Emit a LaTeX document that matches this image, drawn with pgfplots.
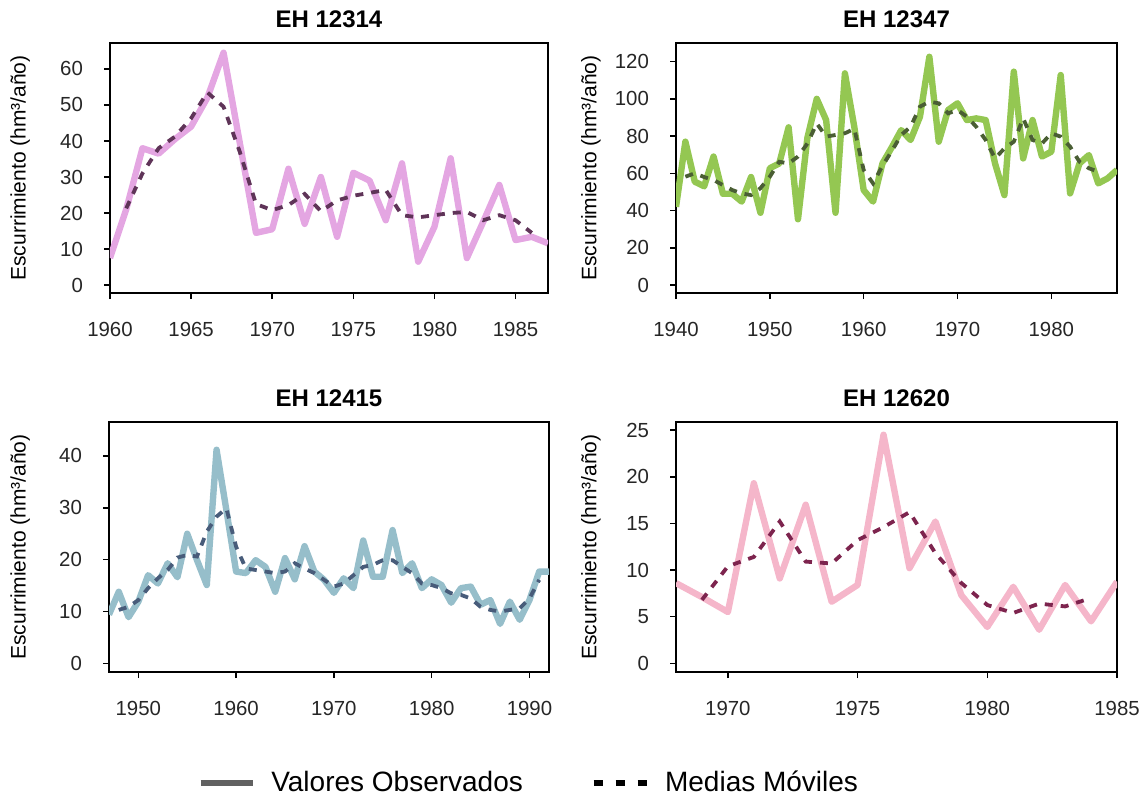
\documentclass[border=0pt]{standalone}
\usepackage{fontspec}
\setmainfont{Liberation Sans}
\usepackage{pgfplots}
\pgfplotsset{compat=1.18}

\definecolor{obsA}{RGB}{228,166,226}
\definecolor{maA}{RGB}{95,52,88}
\definecolor{obsB}{RGB}{148,199,82}
\definecolor{maB}{RGB}{74,94,52}
\definecolor{obsC}{RGB}{150,190,202}
\definecolor{maC}{RGB}{72,92,122}
\definecolor{obsD}{RGB}{245,182,202}
\definecolor{maD}{RGB}{125,36,78}

\pgfplotsset{
  panel/.style={
    scale only axis, height=125pt,
    axis line style={black, line width=0.9pt},
    tick align=outside, major tick length=3pt,
    xtick pos=left, ytick pos=left,
    tick style={black, line width=0.8pt},
    every tick label/.append style={font=\fontsize{10.2}{12}\selectfont, text=black!85},
    /pgf/number format/assume math mode=true,
    /pgf/number format/1000 sep={},
    xticklabel style={yshift=-8pt},
    yticklabel style={xshift=-7pt},
    title style={font=\bfseries\fontsize{12}{14}\selectfont, at={(axis description cs:0.5,1)}, anchor=base, yshift=2pt},
    ylabel={Escurrimiento (hm³/año)},
    ylabel style={font=\fontsize{10.5}{12}\selectfont, anchor=center},
  },
  obs/.style={line width=3.2pt, line join=round},
  ma/.style={line width=1.9pt, dash pattern=on 4pt off 4pt},
  legsolid/.style={legend image code/.code={\draw[##1] (0pt,0pt) -- (26pt,0pt);}},
  legdash/.style={legend image code/.code={\draw[##1] (0pt,0pt) -- (26.5pt,0pt);}},
}

\begin{document}
\begin{tikzpicture}
\path[use as bounding box] (0,0) rectangle (572pt,-402.5pt);

% EH 12314
\begin{axis}[panel, at={(55pt,-146.5pt)}, anchor=south west, width=219pt,
  title={EH 12314},
  xmin=1960, xmax=1987, ymin=-2.2, ymax=67.2,
  xtick={1960,1965,...,1985}, ytick={0,10,...,60},
  ylabel style={at={(axis description cs:-0.205,0.5)}}]
\addplot[obs, obsA] coordinates {
 (1960,7.5) (1961,21) (1962,38) (1963,36.5) (1964,40.5) (1965,44) (1966,52)
 (1967,64.5) (1968,39.5) (1969,14.5) (1970,15.5) (1971,32.3) (1972,17) (1973,30)
 (1974,13.4) (1975,31.2) (1976,29) (1977,18) (1978,33.8) (1979,6.5) (1980,16.2)
 (1981,35.2) (1982,7.5) (1983,17.5) (1984,27.8) (1985,12.5) (1986,13.4) (1987,11.6)};
\addplot[ma, maA] coordinates {
 (1961,21.3) (1962,31) (1963,38) (1964,41.2) (1965,46.3) (1966,53.5) (1967,49.5)
 (1968,37) (1969,22.5) (1970,20.8) (1971,22.2) (1972,25.3) (1973,20.5) (1974,23.5)
 (1975,24.8) (1976,25.6) (1977,26.4) (1978,19.4) (1979,18.8) (1980,19.4) (1981,20)
 (1982,20.3) (1983,18) (1984,19.4) (1985,18) (1986,14.5)};
\end{axis}

% EH 12347
\begin{axis}[panel, at={(338pt,-146.5pt)}, anchor=south west, width=220.5pt,
  title={EH 12347},
  xmin=1940, xmax=1987, ymin=-4.3, ymax=130,
  xtick={1940,1950,...,1980}, ytick={0,20,...,120},
  ylabel style={at={(axis description cs:-0.193,0.5)}}]
\addplot[obs, obsB] coordinates {
 (1940,42) (1941,77) (1942,55.5) (1943,53) (1944,69) (1945,49) (1946,49)
 (1947,44.8) (1948,58) (1949,38.8) (1950,62.7) (1951,65.3) (1952,84.7) (1953,35.3)
 (1954,79) (1955,100) (1956,88.6) (1957,38.8) (1958,113.7) (1959,85) (1960,51)
 (1961,44.8) (1962,65.3) (1963,74) (1964,83.2) (1965,77.9) (1966,90.4) (1967,122.6)
 (1968,77) (1969,94) (1970,97.6) (1971,88.6) (1972,89.5) (1973,88.6) (1974,65.3)
 (1975,48.3) (1976,114.6) (1977,68) (1978,88.6) (1979,69) (1980,71.6) (1981,112.8)
 (1982,49.2) (1983,65.3) (1984,69.8) (1985,54.6) (1986,57.3) (1987,61.8)};
\addplot[ma, maB] coordinates {
 (1941,58.2) (1942,60) (1943,58) (1944,56.4) (1945,53.7) (1946,51) (1947,49.2)
 (1948,48.3) (1949,52) (1950,58.2) (1951,66.2) (1952,65.3) (1953,69) (1954,76)
 (1955,86.8) (1956,79.7) (1957,80.6) (1958,81.5) (1959,84) (1960,61.8) (1961,54.6)
 (1962,64) (1963,72) (1964,80.6) (1965,85) (1966,95.8) (1967,98.5) (1968,97.6)
 (1969,92.2) (1970,94) (1971,90.4) (1972,85) (1973,77.9) (1974,68) (1975,73.4)
 (1976,77) (1977,89.5) (1978,77.9) (1979,76) (1980,81.5) (1981,79.7) (1982,74.3)
 (1983,66.2) (1984,62.7) (1985,60.9)};
\end{axis}

% EH 12415
\begin{axis}[panel, at={(54.5pt,-336pt)}, anchor=south west, width=220pt,
  title={EH 12415},
  xmin=1947, xmax=1992, ymin=-1.68, ymax=46.55,
  xtick={1950,1960,...,1990}, ytick={0,10,...,40},
  ylabel style={at={(axis description cs:-0.202,0.5)}},
  legend style={at={(axis description cs:0.957,-0.444)}, anchor=center, draw=none,
    legend columns=2, font=\fontsize{14}{16}\selectfont,
    /tikz/every odd column/.append style={column sep=6pt},
    /tikz/every even column/.append style={column sep=32pt}},
  legend cell align=left]
\addlegendimage{legsolid, line width=2.6pt, black!62}
\addlegendentry{Valores Observados}
\addlegendimage{legdash, line width=2.6pt, black, dash pattern=on 4.5pt off 6.5pt}
\addlegendentry{Medias Móviles}
\addplot[obs, obsC, forget plot] coordinates {
 (1947,9.4) (1948,13.8) (1949,8.9) (1950,11.9) (1951,17) (1952,15.4) (1953,19.3)
 (1954,16.6) (1955,25) (1956,19.9) (1957,15.1) (1958,41.2) (1959,29.6) (1960,17.7)
 (1961,17.4) (1962,19.9) (1963,18.6) (1964,13.8) (1965,20.3) (1966,16.2) (1967,22.6)
 (1968,17.7) (1969,16.1) (1970,13.6) (1971,16.4) (1972,14.5) (1973,23.7) (1974,16.7)
 (1975,16.7) (1976,25.7) (1977,17.4) (1978,19.3) (1979,14.5) (1980,16.2) (1981,15.1)
 (1982,11.7) (1983,14.5) (1984,14.8) (1985,11.3) (1986,12.2) (1987,7.6) (1988,11.9)
 (1989,8.4) (1990,12.2) (1991,17.7) (1992,17.7)};
\addplot[ma, maC, forget plot] coordinates {
 (1948,10.3) (1949,10.9) (1950,12.2) (1951,14.5) (1952,16.4) (1953,18) (1954,20.4)
 (1955,20.9) (1956,20.6) (1957,25.4) (1958,28.3) (1959,29.9) (1960,22.5) (1961,18.3)
 (1962,18) (1963,17.7) (1964,17.4) (1965,17.7) (1966,19.3) (1967,18.3) (1968,17.4)
 (1969,16.1) (1970,14.8) (1971,15.4) (1972,17) (1973,18.6) (1974,19) (1975,19.9)
 (1976,19.9) (1977,18.6) (1978,17.4) (1979,15.4) (1980,15.1) (1981,14.5) (1982,13.5)
 (1983,13.2) (1984,12.5) (1985,10.9) (1986,10.3) (1987,10) (1988,10.3) (1989,10.6)
 (1990,12.5) (1991,16.1)};
\end{axis}

% EH 12620
\begin{axis}[panel, at={(338pt,-336pt)}, anchor=south west, width=220.5pt,
  title={EH 12620},
  xmin=1968, xmax=1985, ymin=-0.93, ymax=25.86,
  xtick={1970,1975,1980,1985}, ytick={0,5,...,25},
  ylabel style={at={(axis description cs:-0.193,0.5)}}]
\addplot[obs, obsD] coordinates {
 (1968,8.6) (1969,7.1) (1970,5.5) (1971,19.3) (1972,9.1) (1973,17) (1974,6.6)
 (1975,8.4) (1976,24.5) (1977,10.2) (1978,15.2) (1979,7.3) (1980,3.9) (1981,8.2)
 (1982,3.6) (1983,8.4) (1984,4.5) (1985,8.75)};
\addplot[ma, maD] coordinates {
 (1969,6.8) (1970,10.4) (1971,11.4) (1972,15.2) (1973,10.9) (1974,10.7) (1975,13.2)
 (1976,14.6) (1977,16.2) (1978,11.8) (1979,8.6) (1980,6.25) (1981,5.4) (1982,6.4)
 (1983,6.1) (1984,7)};
\end{axis}
\end{tikzpicture}
\end{document}
